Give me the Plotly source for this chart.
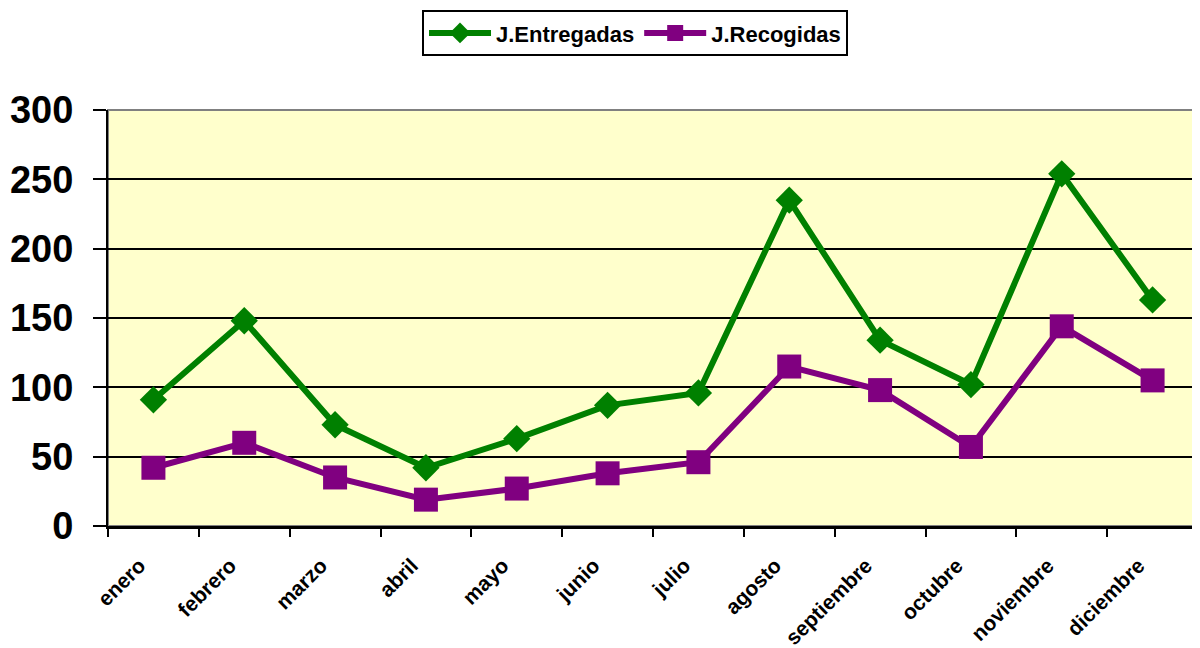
import plotly.graph_objects as go

months = ["enero", "febrero", "marzo", "abril", "mayo", "junio", "julio",
          "agosto", "septiembre", "octubre", "noviembre", "diciembre"]
entregadas = [91, 148, 73, 42, 63, 87, 96, 235, 134, 102, 254, 163]
recogidas = [42, 60, 35, 19, 27, 38, 46, 115, 98, 57, 144, 105]
y_ticks = [0, 50, 100, 150, 200, 250, 300]

FONT = "Arial, Liberation Sans, sans-serif"

fig = go.Figure()
fig.add_trace(go.Scatter(
    x=months, y=entregadas, name="J.Entregadas", mode="lines+markers",
    line=dict(color="#008000", width=6),
    marker=dict(symbol="diamond", size=21, color="#008000"),
))
fig.add_trace(go.Scatter(
    x=months, y=recogidas, name="J.Recogidas", mode="lines+markers",
    line=dict(color="#800080", width=6),
    marker=dict(symbol="square", size=24, color="#800080"),
))

# page body has an 8px margin, so the figure is shrunk and margins offset
fig.update_layout(
    width=1192, height=640,
    margin=dict(l=100, r=2, t=102, b=122),
    paper_bgcolor="white",
    plot_bgcolor="#FFFFCC",
    font=dict(family=FONT, color="black"),
    showlegend=True,
    legend=dict(
        orientation="h", x=0.4835, xanchor="center", y=1.24, yanchor="top",
        bordercolor="black", borderwidth=2, bgcolor="white",
        font=dict(family=FONT, size=22, color="black", weight="bold"),
        itemwidth=62, tracegroupgap=0,
    ),
)
fig.update_xaxes(
    type="category", tickson="boundaries", showgrid=False, automargin=False,
    showline=True, linecolor="black", linewidth=3, mirror=False,
    ticks="outside", ticklen=8, tickwidth=2, tickcolor="black",
    tickangle=-45, ticklabelstandoff=16, ticklabelshift=-14,
    tickfont=dict(family=FONT, size=21, color="black", weight="bold"),
    range=[-0.5, 11.5],
)
fig.update_yaxes(
    range=[0, 300], tickvals=y_ticks, automargin=False,
    showgrid=True, gridcolor="black", gridwidth=2,
    showline=True, linecolor="black", linewidth=2,
    ticks="outside", ticklen=13, tickwidth=2, tickcolor="black",
    ticklabelstandoff=12,
    tickfont=dict(family=FONT, size=38, color="black", weight="bold"),
    zeroline=False,
)
# gray top/right frame
fig.add_shape(type="rect", xref="paper", yref="paper", x0=0, y0=0, x1=1, y1=1,
              line=dict(color="#808080", width=2), layer="below")

fig.write_html("out.html")
